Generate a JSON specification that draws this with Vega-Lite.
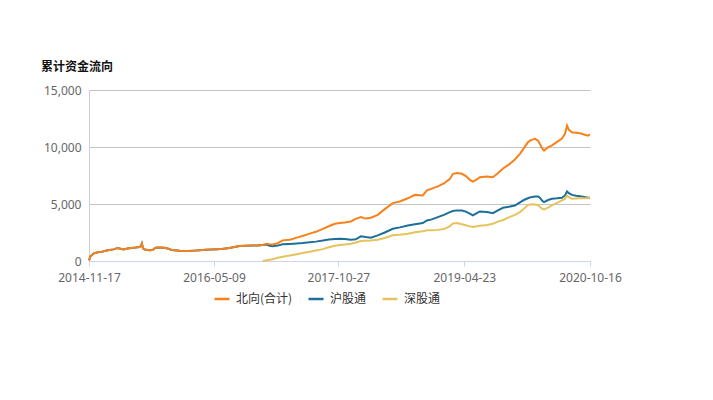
{
  "$schema": "https://vega.github.io/schema/vega-lite/v6.json",
  "width": 501,
  "height": 171,
  "autosize": {"type": "none"},
  "padding": {"left": 89, "top": 90, "right": 123, "bottom": 139},
  "background": "white",
  "title": {
    "text": "累计资金流向",
    "anchor": "start",
    "frame": "group",
    "dx": -48,
    "offset": 10,
    "font": "Noto Sans CJK SC",
    "fontSize": 12,
    "fontWeight": "bold",
    "color": "#111"
  },
  "data": {
    "values": [
      {"date": "2014-11-17", "北向(合计)": 50, "沪股通": 50},
      {"date": "2014-11-23", "北向(合计)": 400, "沪股通": 400},
      {"date": "2014-12-06", "北向(合计)": 650, "沪股通": 650},
      {"date": "2014-12-24", "北向(合计)": 760, "沪股通": 760},
      {"date": "2015-01-10", "北向(合计)": 800, "沪股通": 800},
      {"date": "2015-01-27", "北向(合计)": 900, "沪股通": 900},
      {"date": "2015-02-13", "北向(合计)": 960, "沪股通": 960},
      {"date": "2015-03-03", "北向(合计)": 1020, "沪股通": 1020},
      {"date": "2015-03-20", "北向(合计)": 1140, "沪股通": 1140},
      {"date": "2015-04-02", "北向(合计)": 1080, "沪股通": 1080},
      {"date": "2015-04-15", "北向(合计)": 1010, "沪股通": 1010},
      {"date": "2015-05-02", "北向(合计)": 1100, "沪股通": 1100},
      {"date": "2015-05-19", "北向(合计)": 1140, "沪股通": 1140},
      {"date": "2015-06-06", "北向(合计)": 1180, "沪股通": 1180},
      {"date": "2015-06-23", "北向(合计)": 1230, "沪股通": 1230},
      {"date": "2015-06-29", "北向(合计)": 1300, "沪股通": 1300},
      {"date": "2015-07-03", "北向(合计)": 1520, "沪股通": 1520},
      {"date": "2015-07-08", "北向(合计)": 1100, "沪股通": 1100},
      {"date": "2015-07-15", "北向(合计)": 1000, "沪股通": 1000},
      {"date": "2015-08-05", "北向(合计)": 950, "沪股通": 950},
      {"date": "2015-08-18", "北向(合计)": 960, "沪股通": 960},
      {"date": "2015-08-31", "北向(合计)": 1170, "沪股通": 1170},
      {"date": "2015-09-17", "北向(合计)": 1180, "沪股通": 1180},
      {"date": "2015-10-09", "北向(合计)": 1160, "沪股通": 1160},
      {"date": "2015-10-22", "北向(合计)": 1090, "沪股通": 1090},
      {"date": "2015-11-08", "北向(合计)": 960, "沪股通": 960},
      {"date": "2015-12-13", "北向(合计)": 900, "沪股通": 900},
      {"date": "2016-01-16", "北向(合计)": 875, "沪股通": 875},
      {"date": "2016-02-15", "北向(合计)": 910, "沪股通": 910},
      {"date": "2016-03-08", "北向(合计)": 940, "沪股通": 940},
      {"date": "2016-04-03", "北向(合计)": 980, "沪股通": 980},
      {"date": "2016-04-29", "北向(合计)": 1000, "沪股通": 1000},
      {"date": "2016-05-25", "北向(合计)": 1020, "沪股通": 1020},
      {"date": "2016-06-19", "北向(合计)": 1080, "沪股通": 1080},
      {"date": "2016-07-15", "北向(合计)": 1150, "沪股通": 1150},
      {"date": "2016-08-10", "北向(合计)": 1250, "沪股通": 1250},
      {"date": "2016-08-28", "北向(合计)": 1310, "沪股通": 1310},
      {"date": "2016-09-22", "北向(合计)": 1330, "沪股通": 1330},
      {"date": "2016-10-18", "北向(合计)": 1350, "沪股通": 1350},
      {"date": "2016-11-13", "北向(合计)": 1370, "沪股通": 1370},
      {"date": "2016-12-05", "北向(合计)": 1400, "沪股通": 1400, "深股通": 0},
      {"date": "2016-12-22", "北向(合计)": 1520, "沪股通": 1440, "深股通": 60},
      {"date": "2017-01-04", "北向(合计)": 1480, "沪股通": 1340, "深股通": 110},
      {"date": "2017-01-17", "北向(合计)": 1450, "沪股通": 1290, "深股通": 160},
      {"date": "2017-02-08", "北向(合计)": 1560, "沪股通": 1350, "深股通": 280},
      {"date": "2017-03-01", "北向(合计)": 1810, "沪股通": 1460, "深股通": 380},
      {"date": "2017-04-01", "北向(合计)": 1870, "沪股通": 1500, "深股通": 480},
      {"date": "2017-05-01", "北向(合计)": 2050, "沪股通": 1540, "深股通": 600},
      {"date": "2017-05-26", "北向(合计)": 2200, "沪股通": 1575, "深股通": 700},
      {"date": "2017-06-26", "北向(合计)": 2400, "沪股通": 1640, "深股通": 820},
      {"date": "2017-07-22", "北向(合计)": 2560, "沪股通": 1700, "深股通": 930},
      {"date": "2017-08-21", "北向(合计)": 2820, "沪股通": 1790, "深股通": 1040},
      {"date": "2017-09-16", "北向(合计)": 3050, "沪股通": 1880, "深股通": 1200},
      {"date": "2017-10-12", "北向(合计)": 3270, "沪股通": 1940, "深股通": 1340},
      {"date": "2017-11-02", "北向(合计)": 3330, "沪股通": 1960, "深股通": 1400},
      {"date": "2017-11-24", "北向(合计)": 3380, "沪股通": 1940, "深股通": 1450},
      {"date": "2017-12-20", "北向(合计)": 3470, "沪股通": 1870, "深股通": 1520},
      {"date": "2018-01-10", "北向(合计)": 3700, "沪股通": 1900, "深股通": 1620},
      {"date": "2018-02-01", "北向(合计)": 3850, "沪股通": 2160, "深股通": 1750},
      {"date": "2018-02-22", "北向(合计)": 3720, "沪股通": 2100, "深股通": 1770},
      {"date": "2018-03-16", "北向(合计)": 3800, "沪股通": 2050, "深股通": 1800},
      {"date": "2018-04-15", "北向(合计)": 4050, "沪股通": 2250, "深股通": 1870},
      {"date": "2018-05-15", "北向(合计)": 4550, "沪股通": 2500, "深股通": 2020},
      {"date": "2018-06-19", "北向(合计)": 5080, "沪股通": 2830, "深股通": 2250},
      {"date": "2018-07-19", "北向(合计)": 5220, "沪股通": 2950, "深股通": 2300},
      {"date": "2018-08-23", "北向(合计)": 5500, "沪股通": 3120, "深股通": 2400},
      {"date": "2018-09-22", "北向(合计)": 5800, "沪股通": 3220, "深股通": 2520},
      {"date": "2018-10-26", "北向(合计)": 5750, "沪股通": 3330, "深股通": 2600},
      {"date": "2018-11-13", "北向(合计)": 6190, "沪股通": 3560, "深股通": 2690},
      {"date": "2018-12-04", "北向(合计)": 6350, "沪股通": 3650, "深股通": 2700},
      {"date": "2018-12-30", "北向(合计)": 6540, "沪股通": 3850, "深股通": 2730},
      {"date": "2019-01-25", "北向(合计)": 6800, "沪股通": 4050, "深股通": 2800},
      {"date": "2019-02-20", "北向(合计)": 7200, "沪股通": 4290, "深股通": 3050},
      {"date": "2019-03-05", "北向(合计)": 7650, "沪股通": 4380, "深股通": 3300},
      {"date": "2019-03-22", "北向(合计)": 7720, "沪股通": 4440, "深股通": 3330},
      {"date": "2019-04-13", "北向(合计)": 7650, "沪股通": 4420, "深股通": 3230},
      {"date": "2019-04-30", "北向(合计)": 7450, "沪股通": 4330, "深股通": 3130},
      {"date": "2019-05-17", "北向(合计)": 7120, "沪股通": 4150, "深股通": 3040},
      {"date": "2019-05-30", "北向(合计)": 6970, "沪股通": 4000, "深股通": 2975},
      {"date": "2019-06-16", "北向(合计)": 7150, "沪股通": 4200, "深股通": 3050},
      {"date": "2019-06-29", "北向(合计)": 7350, "沪股通": 4350, "深股通": 3100},
      {"date": "2019-07-30", "北向(合计)": 7410, "沪股通": 4300, "深股通": 3150},
      {"date": "2019-08-24", "北向(合计)": 7350, "沪股通": 4200, "深股通": 3270},
      {"date": "2019-09-15", "北向(合计)": 7700, "沪股通": 4450, "深股通": 3450},
      {"date": "2019-10-07", "北向(合计)": 8120, "沪股通": 4670, "深股通": 3600},
      {"date": "2019-11-01", "北向(合计)": 8450, "沪股通": 4750, "深股通": 3820},
      {"date": "2019-11-27", "北向(合计)": 8900, "沪股通": 4870, "深股通": 4050},
      {"date": "2019-12-19", "北向(合计)": 9400, "沪股通": 5150, "深股通": 4290},
      {"date": "2020-01-05", "北向(合计)": 9900, "沪股通": 5350, "深股通": 4580},
      {"date": "2020-01-22", "北向(合计)": 10410, "沪股通": 5500, "深股通": 4900},
      {"date": "2020-02-04", "北向(合计)": 10600, "沪股通": 5600, "深股通": 4980},
      {"date": "2020-02-22", "北向(合计)": 10710, "沪股通": 5660, "深股通": 4960},
      {"date": "2020-03-06", "北向(合计)": 10550, "沪股通": 5650, "深股通": 4900},
      {"date": "2020-03-14", "北向(合计)": 10270, "沪股通": 5550, "深股通": 4750},
      {"date": "2020-03-23", "北向(合计)": 9900, "沪股通": 5300, "深股通": 4600},
      {"date": "2020-04-01", "北向(合计)": 9690, "沪股通": 5160, "深股通": 4520},
      {"date": "2020-04-18", "北向(合计)": 9980, "沪股通": 5350, "深股通": 4680},
      {"date": "2020-05-05", "北向(合计)": 10150, "沪股通": 5460, "深股通": 4870},
      {"date": "2020-05-27", "北向(合计)": 10450, "沪股通": 5500, "深股通": 5100},
      {"date": "2020-06-17", "北向(合计)": 10750, "沪股通": 5550, "深股通": 5310},
      {"date": "2020-06-30", "北向(合计)": 11150, "沪股通": 5750, "深股通": 5450},
      {"date": "2020-07-09", "北向(合计)": 11870, "沪股通": 6100, "深股通": 5750},
      {"date": "2020-07-17", "北向(合计)": 11500, "沪股通": 5950, "深股通": 5600},
      {"date": "2020-07-30", "北向(合计)": 11290, "沪股通": 5800, "深股通": 5460},
      {"date": "2020-08-17", "北向(合计)": 11250, "沪股通": 5720, "深股通": 5480},
      {"date": "2020-09-03", "北向(合计)": 11200, "沪股通": 5680, "深股通": 5520},
      {"date": "2020-09-20", "北向(合计)": 11100, "沪股通": 5620, "深股通": 5500},
      {"date": "2020-10-07", "北向(合计)": 11000, "沪股通": 5550, "深股通": 5500},
      {"date": "2020-10-16", "北向(合计)": 11100, "沪股通": 5550, "深股通": 5600}
    ]
  },
  "transform": [
    {"fold": ["北向(合计)", "沪股通", "深股通"], "as": ["series", "value"]}
  ],
  "encoding": {
    "x": {
      "field": "date",
      "type": "temporal",
      "title": null,
      "scale": {
        "type": "utc",
        "nice": false,
        "domain": [
          {"year": 2014, "month": 11, "date": 17, "utc": true},
          {"year": 2020, "month": 10, "date": 16, "utc": true}
        ]
      },
      "axis": {
        "values": [
          {"year": 2014, "month": 11, "date": 17, "utc": true},
          {"year": 2016, "month": 5, "date": 9, "utc": true},
          {"year": 2017, "month": 10, "date": 27, "utc": true},
          {"year": 2019, "month": 4, "date": 23, "utc": true},
          {"year": 2020, "month": 10, "date": 16, "utc": true}
        ],
        "labelExpr": "utcFormat(datum.value, '%Y-%m-%d')",
        "grid": false,
        "domainColor": "#ccd6eb",
        "tickColor": "#ccd6eb",
        "tickSize": 5,
        "labelPadding": 6,
        "labelDx": -22,
        "labelFont": "Noto Sans",
        "labelFontSize": 12,
        "labelColor": "#666666",
        "labelFlush": false,
        "labelOverlap": false
      }
    },
    "y": {
      "field": "value",
      "type": "quantitative",
      "title": null,
      "scale": {"domain": [0, 15000], "nice": false},
      "axis": {
        "values": [0, 5000, 10000, 15000],
        "format": ",.0f",
        "grid": true,
        "gridColor": "#c4c4c4",
        "domainColor": "#c8d0dc",
        "ticks": false,
        "labelPadding": 8,
        "labelFont": "Noto Sans",
        "labelFontSize": 12,
        "labelColor": "#666666"
      }
    },
    "color": {
      "field": "series",
      "type": "nominal",
      "scale": {
        "domain": ["北向(合计)", "沪股通", "深股通"],
        "range": ["#f7821b", "#1c6f99", "#e6c35c"]
      },
      "legend": {
        "orient": "none",
        "legendX": 124,
        "legendY": 200,
        "direction": "horizontal",
        "title": null,
        "symbolType": "stroke",
        "symbolSize": 225,
        "symbolStrokeWidth": 2.5,
        "labelFont": "Noto Sans CJK SC",
        "labelFontSize": 12,
        "labelColor": "#333333",
        "labelOffset": 5,
        "columnPadding": 10,
        "padding": 0
      }
    }
  },
  "layer": [
    {
      "transform": [{"filter": "datum.series !== '北向(合计)'"}],
      "mark": {"type": "line", "strokeWidth": 2}
    },
    {
      "transform": [{"filter": "datum.series === '北向(合计)'"}],
      "mark": {"type": "line", "strokeWidth": 2}
    }
  ],
  "config": {
    "view": {"stroke": null},
    "font": "Noto Sans CJK SC"
  }
}
